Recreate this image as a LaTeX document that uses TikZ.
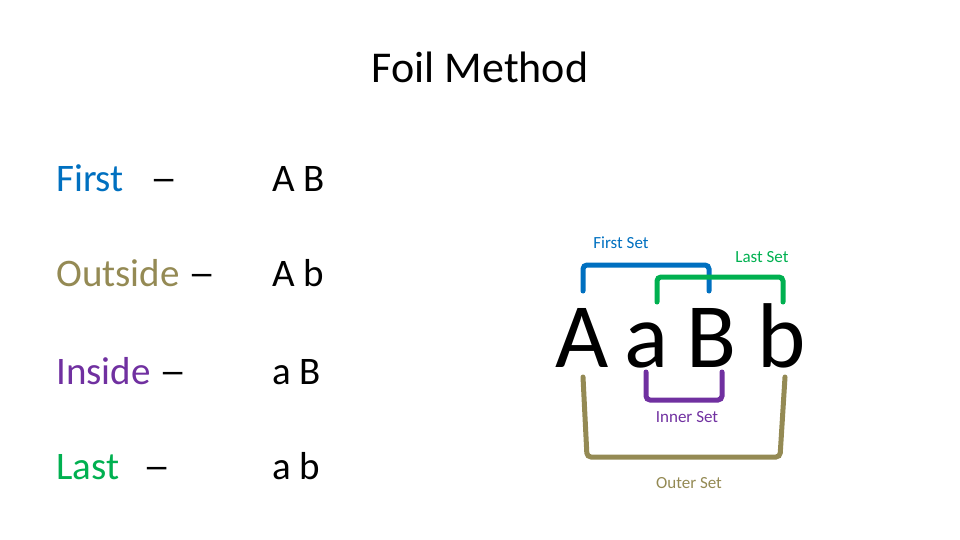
\documentclass[tikz,border=0pt]{standalone}
\usepackage{fontspec}
\usepackage{graphicx}
\setmainfont{Carlito}
\usetikzlibrary{positioning}
\definecolor{cBlue}{HTML}{0070C0}
\definecolor{cOlive}{HTML}{948A54}
\definecolor{cPurple}{HTML}{7030A0}
\definecolor{cGreen}{HTML}{00B050}
\newcommand{\ldash}{\scalebox{1.4}[1]{–}}
\tikzset{
  term/.style={anchor=base west,font=\fontsize{39}{44}\selectfont,inner sep=0pt},
  setlbl/.style={text=#1,font=\fontsize{17}{20}\selectfont,inner sep=0pt},
  letter/.style={anchor=base,font=\fontsize{92}{100}\selectfont,inner sep=0pt},
  brk/.style={draw=#1,line width=5pt,rounded corners=4pt,line cap=round},
}

\begin{document}
\begin{tikzpicture}[x=1pt,y=-1pt]
  \useasboundingbox (0,0) rectangle (960,540);
  \node[anchor=base,font=\fontsize{44}{50}\selectfont,inner sep=0pt] (title) at (480,83) {Foil Method};
  % left column
  \node[term] (first) at (56,191) {\textcolor{cBlue}{First}\hspace{18pt} \ldash};
  \node[term] (outside) at (56,286) {\textcolor{cOlive}{Outside} \ldash};
  \node[term] (inside) at (56,384) {\textcolor{cPurple}{Inside} \ldash};
  \node[term] (last) at (56,479) {\textcolor{cGreen}{Last}\hspace{16pt} \ldash};
  \node[term] (firstp) at (272,191) {A B};
  \node[term] (outsidep) at (272,286) {A b};
  \node[term] (insidep) at (272,384) {a B};
  \node[term] (lastp) at (272,479) {a b};
  % big letters
  \node[letter] (bigA) at (582,367) {A};
  \node[letter] (sma) at (647,367) {a};
  \node[letter] (bigB) at (712,367) {B};
  \node[letter] (smb) at (782,367) {b};
  % brackets
  \draw[brk=cBlue] (583,291) -- (583,265) -- (709,265) -- (709,291);
  \draw[brk=cGreen] (657,302) -- (657,277) -- (783,277) -- (783,302);
  \draw[brk=cPurple] (646,372) -- (646,400) -- (722,400) -- (722,372);
  \draw[brk=cOlive] (583,377) -- (587,457) -- (780,457) -- (785,377);
  \node[setlbl=cBlue] (firstset) at (621,243) {First Set};
  \node[setlbl=cGreen] (lastset) at (762,257) {Last Set};
  \node[setlbl=cPurple] (innerset) at (687,417) {Inner Set};
  \node[setlbl=cOlive] (outerset) at (689,483) {Outer Set};
\end{tikzpicture}
\end{document}
